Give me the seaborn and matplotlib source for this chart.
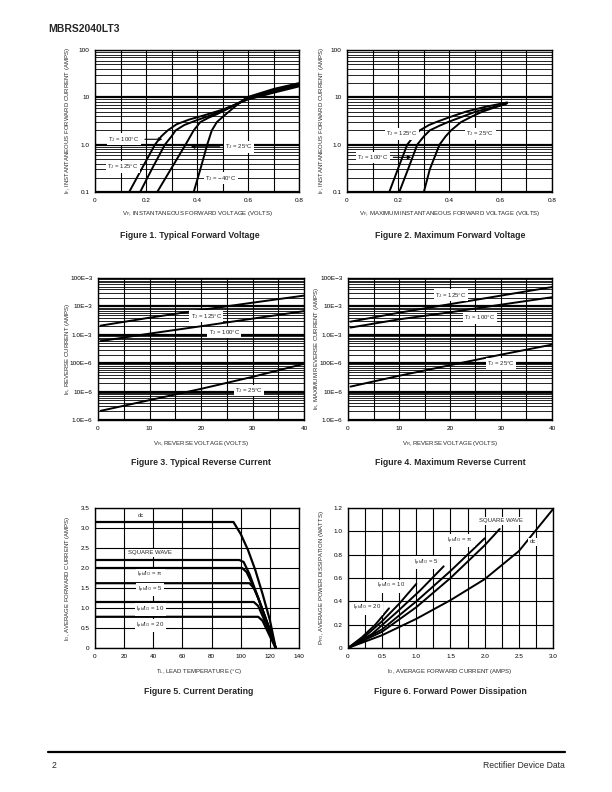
import numpy as np
import pandas as pd
import matplotlib
matplotlib.use('Agg')
import matplotlib.pyplot as plt
import seaborn as sns
from matplotlib.ticker import MultipleLocator, LogLocator, FixedLocator, NullFormatter
from matplotlib.lines import Line2D

sns.set_style('white')
plt.rcParams['font.family'] = ['Liberation Sans', 'DejaVu Sans']
plt.rcParams['axes.linewidth'] = 1.0

# ---- Figure 1: typical forward voltage ----
f1_vf_125 = [0.134, 0.19, 0.235, 0.26, 0.285, 0.32, 0.37, 0.43, 0.50, 0.60, 0.70, 0.80]
f1_if_125 = [0.1, 0.36, 1.0, 1.5, 2.0, 2.7, 3.4, 4.2, 5.5, 9.0, 12.5, 17]
f1_vf_100 = [0.177, 0.225, 0.274, 0.30, 0.316, 0.35, 0.40, 0.45, 0.50, 0.60, 0.70, 0.80]
f1_if_100 = [0.1, 0.32, 1.0, 1.5, 2.0, 2.6, 3.3, 4.1, 5.3, 9.3, 13, 18]
f1_vf_25 = [0.244, 0.30, 0.355, 0.387, 0.413, 0.445, 0.478, 0.517, 0.55, 0.60, 0.70, 0.80]
f1_if_25 = [0.1, 0.32, 1.0, 2.0, 3.0, 3.7, 4.4, 5.6, 7.0, 9.8, 14, 19]
f1_vf_m40 = [0.387, 0.413, 0.44, 0.458, 0.478, 0.504, 0.543, 0.595, 0.70, 0.80]
f1_if_m40 = [0.1, 0.3, 1.0, 2.0, 3.0, 4.0, 6.0, 10, 15, 20]

# ---- Figure 2: maximum forward voltage ----
f2_vf_125 = [0.165, 0.20, 0.235, 0.26, 0.284, 0.32, 0.348, 0.40, 0.465, 0.54, 0.625]
f2_if_125 = [0.1, 0.32, 1.0, 1.5, 2.0, 2.6, 3.0, 3.8, 5.0, 6.3, 7.8]
f2_vf_100 = [0.204, 0.24, 0.274, 0.30, 0.323, 0.36, 0.394, 0.45, 0.503, 0.56, 0.625]
f2_if_100 = [0.1, 0.32, 1.0, 1.5, 2.0, 2.5, 3.0, 3.9, 5.0, 6.0, 7.5]
f2_vf_25 = [0.30, 0.323, 0.361, 0.385, 0.406, 0.445, 0.49, 0.529, 0.58, 0.62]
f2_if_25 = [0.1, 0.3, 1.0, 1.5, 2.0, 3.0, 4.0, 5.0, 6.2, 7.2]

# ---- Figures 3 and 4: reverse current ----
vr = [0.5, 10, 20, 30, 40]
f3_ir_125 = [2.1e-3, 4.0e-3, 7.5e-3, 1.35e-2, 2.4e-2]
f3_ir_100 = [6.0e-4, 1.1e-3, 2.0e-3, 3.7e-3, 6.8e-3]
f3_ir_25 = [2.1e-6, 5.0e-6, 1.25e-5, 3.3e-5, 9.5e-5]
f4_ir_125 = [2.9e-3, 6.0e-3, 1.2e-2, 2.4e-2, 4.8e-2]
f4_ir_100 = [1.8e-3, 3.5e-3, 6.2e-3, 1.15e-2, 2.1e-2]
f4_ir_25 = [1.5e-5, 3.6e-5, 8.5e-5, 2.0e-4, 4.5e-4]
ir_ticks = [1e-6, 1e-5, 1e-4, 1e-3, 1e-2, 1e-1]
ir_ticklabels = ['1.0E\u22126', '10E\u22126', '100E\u22126', '1.0E\u22123', '10E\u22123', '100E\u22123']

# ---- Figure 5: current derating ----
f5_tl_dc = [0, 95, 100, 105, 110, 115, 120, 124]
f5_io_dc = [3.15, 3.15, 2.85, 2.45, 1.95, 1.35, 0.7, 0]
f5_tl_sq = [0, 99, 102, 106, 110, 115, 120, 124]
f5_io_sq = [2.2, 2.2, 2.15, 1.85, 1.45, 0.95, 0.45, 0]
f5_tl_pi = [0, 101, 104, 108, 112, 116, 120, 124]
f5_io_pi = [2.0, 2.0, 1.9, 1.6, 1.25, 0.85, 0.45, 0]
f5_tl_5 = [0, 106, 109, 112, 116, 120, 124]
f5_io_5 = [1.62, 1.62, 1.5, 1.25, 0.85, 0.45, 0]
f5_tl_10 = [0, 109, 112, 115, 118, 121, 124]
f5_io_10 = [1.15, 1.15, 1.05, 0.8, 0.55, 0.3, 0]
f5_tl_20 = [0, 112, 115, 118, 121, 124]
f5_io_20 = [0.78, 0.78, 0.68, 0.45, 0.22, 0]

# ---- Figure 6: forward power dissipation ----
f6_io_20 = [0, 0.2, 0.4, 0.6]
f6_pf_20 = [0, 0.09, 0.2, 0.34]
f6_io_10 = [0, 0.25, 0.5, 0.75, 1.0]
f6_pf_10 = [0, 0.1, 0.23, 0.38, 0.55]
f6_io_5 = [0, 0.35, 0.7, 1.05, 1.4]
f6_pf_5 = [0, 0.12, 0.3, 0.49, 0.7]
f6_io_pi = [0, 0.5, 1.0, 1.5, 2.0]
f6_pf_pi = [0, 0.16, 0.4, 0.66, 0.94]
f6_io_sq = [0, 0.5, 1.0, 1.5, 2.0, 2.22]
f6_pf_sq = [0, 0.14, 0.35, 0.6, 0.88, 1.02]
f6_io_dc = [0, 0.5, 1.0, 1.5, 2.0, 2.5, 3.0]
f6_pf_dc = [0, 0.11, 0.25, 0.41, 0.59, 0.83, 1.19]

W, H = 612, 792
fig = plt.figure(figsize=(W / 100, H / 100), dpi=100)


def box(x0, x1, yt, yb):
    return [x0 / W, 1 - yb / H, (x1 - x0) / W, (yb - yt) / H]


TICK = 4.6
LBL = 4.3
CAP = 6.3


def setup(ax):
    ax.tick_params(which='both', length=0, labelsize=TICK, pad=4, colors='black')
    for s in ax.spines.values():
        s.set_color('black')
        s.set_linewidth(1.0)
    ax.set_xlabel('')
    ax.set_ylabel('')


def curve(ax, x, y, lw=1.4):
    sns.lineplot(x=x, y=y, ax=ax, color='black', lw=lw, estimator=None, sort=False)


def tag(ax, x, y, s, size=LBL):
    ax.text(x, y, s, ha='center', va='center', fontsize=size, zorder=5,
            bbox=dict(facecolor='white', edgecolor='none', pad=1.0))


def log_grid(ax):
    ax.set_yscale('log')
    ax.yaxis.set_minor_locator(LogLocator(base=10, subs=np.arange(2, 10)))
    ax.yaxis.set_minor_formatter(NullFormatter())
    ax.grid(which='major', axis='y', color='black', lw=1.6)
    ax.grid(which='minor', axis='y', color='black', lw=0.6)


def fig_text(x, y, s, **kw):
    fig.text(x / W, 1 - y / H, s, ha='center', va='center', **kw)


TJ = r'$\mathregular{T_J}$'
IPK = r'$\mathregular{I_{pk}/I_O}$'

# ---------------- Figure 1 ----------------
ax1 = fig.add_axes(box(95, 299, 50, 192))
curve(ax1, f1_vf_125, f1_if_125)
curve(ax1, f1_vf_100, f1_if_100)
curve(ax1, f1_vf_25, f1_if_25)
curve(ax1, f1_vf_m40, f1_if_m40)
log_grid(ax1)
ax1.set_xlim(0, 0.8)
ax1.set_ylim(0.1, 100)
ax1.xaxis.set_minor_locator(MultipleLocator(0.1))
ax1.grid(which='both', axis='x', color='black', lw=0.8)
ax1.yaxis.set_major_locator(FixedLocator([0.1, 1, 10, 100]))
ax1.set_yticklabels(['0.1', '1.0', '10', '100'])
setup(ax1)
ax1.set_xticks([0, 0.2, 0.4, 0.6, 0.8], ['0', '0.2', '0.4', '0.6', '0.8'])
tag(ax1, 0.114, 1.3, TJ + ' = 100\u00b0C')
ax1.annotate('', xy=(0.275, 1.3), xytext=(0.185, 1.3),
             arrowprops=dict(arrowstyle='-|>', color='black', lw=0.8, mutation_scale=5))
tag(ax1, 0.11, 0.34, TJ + ' = 125\u00b0C')
tag(ax1, 0.565, 0.9, TJ + ' = 25\u00b0C')
ax1.annotate('', xy=(0.365, 0.9), xytext=(0.50, 0.9),
             arrowprops=dict(arrowstyle='-|>', color='black', lw=0.8, mutation_scale=5))
tag(ax1, 0.494, 0.195, TJ + ' = \u221240\u00b0C')
fig_text(68, 121, r'$\mathregular{I_F}$, INSTANTANEOUS FORWARD CURRENT (AMPS)', fontsize=LBL, rotation=90)
fig_text(197, 214, r'$\mathregular{V_F}$, INSTANTANEOUS FORWARD VOLTAGE (VOLTS)', fontsize=LBL)
fig_text(190, 236, 'Figure 1. Typical Forward Voltage', fontsize=CAP, fontweight='bold')

# ---------------- Figure 2 ----------------
ax2 = fig.add_axes(box(347, 552, 50, 192))
curve(ax2, f2_vf_125, f2_if_125)
curve(ax2, f2_vf_100, f2_if_100)
curve(ax2, f2_vf_25, f2_if_25)
log_grid(ax2)
ax2.set_xlim(0, 0.8)
ax2.set_ylim(0.1, 100)
ax2.xaxis.set_minor_locator(MultipleLocator(0.1))
ax2.grid(which='both', axis='x', color='black', lw=0.8)
ax2.yaxis.set_major_locator(FixedLocator([0.1, 1, 10, 100]))
ax2.set_yticklabels(['0.1', '1.0', '10', '100'])
setup(ax2)
ax2.set_xticks([0, 0.2, 0.4, 0.6, 0.8], ['0', '0.2', '0.4', '0.6', '0.8'])
tag(ax2, 0.215, 1.7, TJ + ' = 125\u00b0C')
tag(ax2, 0.52, 1.7, TJ + ' = 25\u00b0C')
tag(ax2, 0.10, 0.54, TJ + ' = 100\u00b0C')
ax2.annotate('', xy=(0.262, 0.54), xytext=(0.17, 0.54),
             arrowprops=dict(arrowstyle='-|>', color='black', lw=0.8, mutation_scale=5))
fig_text(322, 121, r'$\mathregular{I_F}$, INSTANTANEOUS FORWARD CURRENT (AMPS)', fontsize=LBL, rotation=90)
fig_text(450, 214, r'$\mathregular{V_F}$, MAXIMUM INSTANTANEOUS FORWARD VOLTAGE (VOLTS)', fontsize=LBL)
fig_text(450, 236, 'Figure 2. Maximum Forward Voltage', fontsize=CAP, fontweight='bold')

# ---------------- Figures 3 and 4 ----------------
ax3 = fig.add_axes(box(98, 304, 278, 420))
ax4 = fig.add_axes(box(348, 552, 278, 420))
for ax, ys in [(ax3, [f3_ir_125, f3_ir_100, f3_ir_25]), (ax4, [f4_ir_125, f4_ir_100, f4_ir_25])]:
    for y in ys:
        curve(ax, vr, y)
    log_grid(ax)
    ax.set_xlim(0, 40)
    ax.set_ylim(1e-6, 1e-1)
    ax.xaxis.set_minor_locator(MultipleLocator(5))
    ax.grid(which='both', axis='x', color='black', lw=0.8)
    ax.yaxis.set_major_locator(FixedLocator(ir_ticks))
    ax.set_yticklabels(ir_ticklabels)
    setup(ax)
    ax.set_xticks([0, 10, 20, 30, 40], ['0', '10', '20', '30', '40'])

tag(ax3, 21, 4.5e-3, TJ + ' = 125\u00b0C')
tag(ax3, 24.5, 1.2e-3, TJ + ' = 100\u00b0C')
tag(ax3, 29.3, 1.1e-5, TJ + ' = 25\u00b0C')
tag(ax4, 20.1, 2.5e-2, TJ + ' = 125\u00b0C')
tag(ax4, 25.8, 4.0e-3, TJ + ' = 100\u00b0C')
tag(ax4, 30, 9.5e-5, TJ + ' = 25\u00b0C')
fig_text(67, 349, r'$\mathregular{I_R}$, REVERSE CURRENT (AMPS)', fontsize=LBL, rotation=90)
fig_text(316, 349, r'$\mathregular{I_R}$, MAXIMUM REVERSE CURRENT (AMPS)', fontsize=LBL, rotation=90)
fig_text(201, 443, r'$\mathregular{V_R}$, REVERSE VOLTAGE (VOLTS)', fontsize=LBL)
fig_text(450, 443, r'$\mathregular{V_R}$, REVERSE VOLTAGE (VOLTS)', fontsize=LBL)
fig_text(201, 463, 'Figure 3. Typical Reverse Current', fontsize=CAP, fontweight='bold')
fig_text(450, 463, 'Figure 4. Maximum Reverse Current', fontsize=CAP, fontweight='bold')

# ---------------- Figure 5 ----------------
ax5 = fig.add_axes(box(95, 299, 508, 648))
for x, y in [(f5_tl_dc, f5_io_dc), (f5_tl_sq, f5_io_sq), (f5_tl_pi, f5_io_pi),
             (f5_tl_5, f5_io_5), (f5_tl_10, f5_io_10), (f5_tl_20, f5_io_20)]:
    curve(ax5, x, y, lw=1.6)
ax5.set_xlim(0, 140)
ax5.set_ylim(0, 3.5)
ax5.set_xticks(np.arange(0, 141, 20), [str(v) for v in range(0, 141, 20)])
ax5.set_yticks(np.arange(0, 3.51, 0.5), ['0', '0.5', '1.0', '1.5', '2.0', '2.5', '3.0', '3.5'])
ax5.grid(which='major', color='black', lw=0.8)
setup(ax5)
tag(ax5, 31.7, 3.31, 'dc')
tag(ax5, 38, 2.38, 'SQUARE WAVE')
tag(ax5, 38, 1.82, IPK + ' = \u03c0')
tag(ax5, 38, 1.46, IPK + ' = 5')
tag(ax5, 38, 0.96, IPK + ' = 10')
tag(ax5, 38, 0.56, IPK + ' = 20')
fig_text(67, 578, r'$\mathregular{I_O}$, AVERAGE FORWARD CURRENT (AMPS)', fontsize=LBL, rotation=90)
fig_text(199, 671, r'$\mathregular{T_L}$, LEAD TEMPERATURE (' + '\u00b0C)', fontsize=LBL)
fig_text(199, 691, 'Figure 5. Current Derating', fontsize=CAP, fontweight='bold')

# ---------------- Figure 6 ----------------
ax6 = fig.add_axes(box(348, 553, 508, 648))
for x, y in [(f6_io_20, f6_pf_20), (f6_io_10, f6_pf_10), (f6_io_5, f6_pf_5),
             (f6_io_pi, f6_pf_pi), (f6_io_sq, f6_pf_sq), (f6_io_dc, f6_pf_dc)]:
    curve(ax6, x, y)
ax6.set_xlim(0, 3.0)
ax6.set_ylim(0, 1.2)
ax6.set_xticks(np.arange(0, 3.01, 0.5), ['0', '0.5', '1.0', '1.5', '2.0', '2.5', '3.0'])
ax6.xaxis.set_minor_locator(MultipleLocator(0.25))
ax6.set_yticks(np.arange(0, 1.21, 0.2), ['0', '0.2', '0.4', '0.6', '0.8', '1.0', '1.2'])
ax6.grid(which='both', color='black', lw=0.8)
setup(ax6)
tag(ax6, 2.24, 1.09, 'SQUARE WAVE')
tag(ax6, 2.7, 0.91, 'dc')
tag(ax6, 1.645, 0.92, IPK + ' = \u03c0')
tag(ax6, 1.145, 0.73, IPK + ' = 5')
tag(ax6, 0.63, 0.53, IPK + ' = 10')
tag(ax6, 0.28, 0.34, IPK + ' = 20')
fig_text(321, 578, r'$\mathregular{P_{FO}}$, AVERAGE POWER DISSIPATION (WATTS)', fontsize=LBL, rotation=90)
fig_text(450, 671, r'$\mathregular{I_O}$, AVERAGE FORWARD CURRENT (AMPS)', fontsize=LBL)
fig_text(450, 691, 'Figure 6. Forward Power Dissipation', fontsize=CAP, fontweight='bold')

# ---------------- page header / footer ----------------
fig.text(48 / W, 1 - 29 / H, 'MBRS2040LT3', fontsize=7.5, fontweight='bold', ha='left', va='center')
fig.add_artist(Line2D([48 / W, 565 / W], [1 - 752 / H, 1 - 752 / H], color='black', lw=1.6))
fig.text(52 / W, 1 - 765 / H, '2', fontsize=6.2, ha='left', va='center')
fig.text(565 / W, 1 - 765 / H, 'Rectifier Device Data', fontsize=6.2, ha='right', va='center')

fig.savefig('out.png', dpi=100)
